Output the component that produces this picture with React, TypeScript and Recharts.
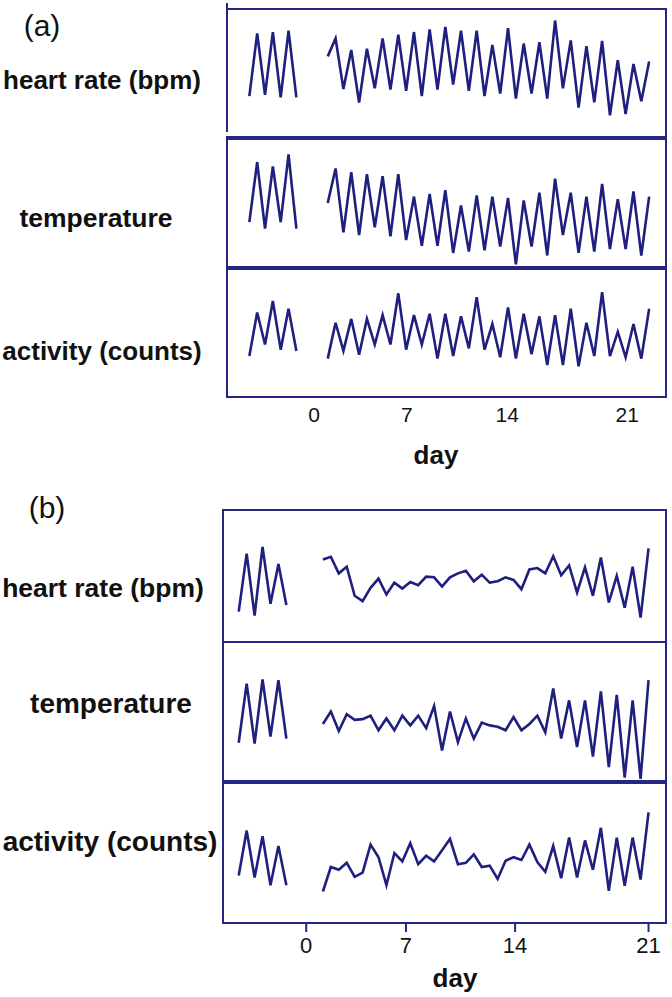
import { LineChart, Line, XAxis, YAxis } from 'recharts';

const rowNames = ['heart rate (bpm)', 'temperature', 'activity (counts)'];
const panelNames = ['(a)', '(b)'];
const axisTitle = 'day';
const dayTicks = ['0', '7', '14', '21'];

// sample index under each day label
const dayTickIdxA = [8.26, 20.1, 32.9, 48.2];
const dayTickIdxB = [8.5, 21.06, 34.8, 51.6];
const postStartA = 10;
const postStartB = 10.6;

// panel (a)
const hrPreA = [32, 81, 33, 82, 31, 83, 31];
const hrPostA = [63, 77, 37.5, 68, 27, 69, 38, 77, 37, 80, 36, 82, 32, 84, 37, 86, 41, 83, 36, 83, 32, 72, 34, 85, 30, 73, 34, 74, 30, 91, 38, 75.5, 23, 71, 27, 75, 17, 60, 18, 57, 28, 59];
const tempPreA = [35, 82, 30, 78.5, 35, 88, 30];
const tempPostA = [50, 77, 27, 74, 25, 72.5, 31, 71, 24, 72.5, 21, 55, 16.5, 57, 16.5, 60, 11, 48, 12, 56, 13, 55, 16, 54, 2, 52, 16, 58, 9, 69, 25, 58, 11, 55, 12, 65, 14, 53, 14, 59, 9, 55];
const actPreA = [32, 66, 41, 75, 37, 69, 36];
const actPostA = [30, 58, 36, 61, 33, 61, 41, 64, 41, 81, 37, 64, 41, 65, 30, 65, 32, 63, 38, 78, 37, 57, 31, 70, 30, 65, 33.5, 63, 25, 64, 25, 69, 24, 58, 32, 82, 32, 51, 31, 57, 30, 69];

// panel (b)
const hrPreB = [23, 67, 20, 72, 29, 59, 28];
const hrPostB = [62.5, 64.5, 52, 57, 35, 31, 41, 48, 36, 45, 40.5, 45.5, 43, 49.5, 49, 42, 49, 52, 54, 46, 51, 45, 46, 49, 47, 40, 55, 56, 52, 65, 50.5, 58, 37.5, 56.5, 35, 64, 30, 50, 26, 57, 18.5, 71];
const tempPreB = [27.5, 70, 27, 73, 32, 72.5, 30.5];
const tempPostB = [41, 50, 36, 48, 44, 44.5, 47, 36.5, 45, 36.5, 47, 40, 47, 38, 54, 22, 50, 28, 45, 30.5, 42, 40, 39, 36.5, 46, 36.5, 41, 47, 35, 66.5, 30.5, 58, 24.5, 58, 17.5, 64.5, 10, 62, 2.5, 58, 1.5, 72.5];
const actPreB = [34, 66, 32.5, 62, 27, 55, 27];
const actPostB = [22.5, 40, 38, 43, 33, 36, 56, 47, 27, 50, 44, 57, 42, 48, 44, 52, 60, 42, 43, 49, 40, 41, 31.5, 44.5, 47, 45, 56, 43.5, 36.5, 55, 32, 61, 32.5, 59, 38, 68, 23, 61, 26.5, 61, 31, 79];

const NAVY = '#1f1f7f';
const FRAME = '#262684';
const FONT = '"Liberation Sans", Arial, sans-serif';

type Pt = { x: number; v: number | null };

function toRows(pre: number[], post: number[], postStart: number): Pt[] {
  const rows: Pt[] = pre.map((v, i) => ({ x: i, v }));
  rows.push({ x: (pre.length - 1 + postStart) / 2, v: null }); // break between the two periods
  post.forEach((v, i) => rows.push({ x: postStart + i, v }));
  return rows;
}

type AxisOpts = {
  height: number;
  ticks: number[];
  fontSize: number;
  tickSize: number;
  tickMargin: number;
  showTickLine: boolean;
};

function Strip(props: {
  data: Pt[];
  left: number;
  top: number;
  width: number;
  height: number;
  domain: [number, number];
  axis?: AxisOpts;
  openLeft?: boolean;
}) {
  const { data, left, top, width, height, domain, axis, openLeft } = props;
  const axisH = axis ? axis.height : 0;
  return (
    <div style={{ position: 'absolute', left, top, width, height: height + axisH }}>
      <LineChart width={width} height={height + axisH} data={data} margin={{ top: 0, right: 0, bottom: 0, left: 0 }}>
        <XAxis
          dataKey="x"
          type="number"
          domain={domain}
          hide={!axis}
          height={axisH}
          ticks={axis ? axis.ticks : undefined}
          interval={0}
          tickFormatter={(v: number) => (axis ? dayTicks[axis.ticks.indexOf(v)] : '')}
          axisLine={false}
          tickLine={axis && axis.showTickLine ? { stroke: FRAME, strokeWidth: 2 } : false}
          tickSize={axis ? axis.tickSize : 6}
          tickMargin={axis ? axis.tickMargin : 2}
          tick={{ fill: '#111', fontSize: axis ? axis.fontSize : 12 }}
        />
        <YAxis type="number" domain={[0, 100]} hide />
        <Line
          type="linear"
          dataKey="v"
          stroke={NAVY}
          strokeWidth={2.6}
          dot={false}
          connectNulls={false}
          isAnimationActive={false}
        />
      </LineChart>
      <div
        style={{
          position: 'absolute',
          left: -1,
          top: -1,
          width: width + 2,
          height: height + 2,
          border: `2px solid ${FRAME}`,
          borderLeft: openLeft ? 'none' : `2px solid ${FRAME}`,
          boxSizing: 'border-box',
          pointerEvents: 'none',
        }}
      />
    </div>
  );
}

function Label(props: { text: string; x: number; y: number; size: number; bold?: boolean }) {
  const { text, x, y, size, bold } = props;
  return (
    <div
      style={{
        position: 'absolute',
        left: x,
        top: y - size * 0.09,
        transform: 'translate(-50%, -50%)',
        fontSize: size,
        lineHeight: 1,
        fontWeight: bold ? 700 : 400,
        whiteSpace: 'nowrap',
        color: '#111',
      }}
    >
      {text}
    </div>
  );
}

export default function App() {
  const domainA: [number, number] = [-2.85, 53.15];
  const domainB: [number, number] = [-1.98, 53.8];
  const leftA = 227;
  const widthA = 439;
  const leftB = 223;
  const widthB = 443;

  return (
    <div style={{ position: 'relative', width: 672, height: 997, fontFamily: FONT, background: '#fff', overflow: 'hidden' }}>
      <style>{'body{margin:0}'}</style>

      {/* (a) */}
      <Label text={panelNames[0]} x={42} y={29} size={30} />
      <Strip data={toRows(hrPreA, hrPostA, postStartA)} left={leftA} top={9} width={widthA} height={128} domain={domainA} openLeft />
      <div style={{ position: 'absolute', left: leftA - 1, top: 3, width: 2, height: 129, background: FRAME }} />
      <Strip data={toRows(tempPreA, tempPostA, postStartA)} left={leftA} top={139} width={widthA} height={128} domain={domainA} />
      <Strip
        data={toRows(actPreA, actPostA, postStartA)}
        left={leftA}
        top={269}
        width={widthA}
        height={128}
        domain={domainA}
        axis={{ height: 34, ticks: dayTickIdxA, fontSize: 21, tickSize: 6, tickMargin: 4, showTickLine: false }}
      />
      <Label text={rowNames[0]} x={102} y={82} size={26} bold />
      <Label text={rowNames[1]} x={96} y={220} size={26.5} bold />
      <Label text={rowNames[2]} x={102} y={353} size={26} bold />
      <Label text={axisTitle} x={436} y={457} size={26} bold />

      {/* (b) */}
      <Label text={panelNames[1]} x={47} y={511} size={30} />
      <Strip data={toRows(hrPreB, hrPostB, postStartB)} left={leftB} top={510} width={widthB} height={132} domain={domainB} />
      <Strip data={toRows(tempPreB, tempPostB, postStartB)} left={leftB} top={642} width={widthB} height={139} domain={domainB} />
      <Strip
        data={toRows(actPreB, actPostB, postStartB)}
        left={leftB}
        top={783}
        width={widthB}
        height={140}
        domain={domainB}
        axis={{ height: 40, ticks: dayTickIdxB, fontSize: 22, tickSize: 9, tickMargin: 5, showTickLine: true }}
      />
      <Label text={rowNames[0]} x={103} y={590} size={26.5} bold />
      <Label text={rowNames[1]} x={111} y={707} size={28} bold />
      <Label text={rowNames[2]} x={110} y={845} size={28} bold />
      <Label text={axisTitle} x={455} y={980} size={26} bold />
    </div>
  );
}
